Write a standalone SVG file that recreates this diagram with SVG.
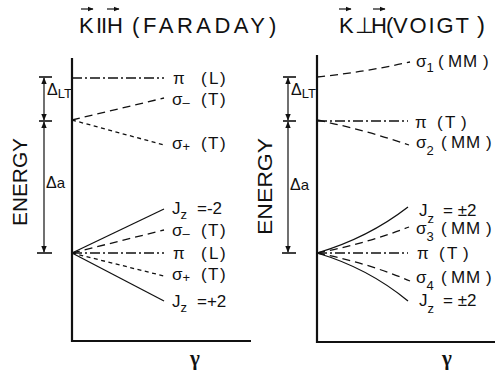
<svg xmlns="http://www.w3.org/2000/svg" width="495" height="374" viewBox="0 0 495 374">
<defs>
<style>
text{font-family:"Liberation Sans","DejaVu Sans",sans-serif;fill:#111}
.t{font-size:22px}
.lb{font-size:17px}
.sb{font-size:13px}
.en{font-size:21px}
.ax{stroke:#111;stroke-width:2.2;fill:none}
.dim{stroke:#111;stroke-width:1.2;fill:none}
.tk{stroke:#111;stroke-width:1.6}
.so{stroke:#111;stroke-width:1.3;fill:none}
.da{stroke:#111;stroke-width:1.3;fill:none;stroke-dasharray:8 5}
.sd{stroke:#111;stroke-width:1.3;fill:none;stroke-dasharray:4 3.5}
.dd{stroke:#111;stroke-width:1.3;fill:none;stroke-dasharray:10 3 2 3}
.gm{font-family:"Liberation Serif","DejaVu Serif",serif;font-size:21px;font-weight:bold}
</style>
<marker id="ah" viewBox="0 0 10 10" refX="9" refY="5" markerWidth="7" markerHeight="7" markerUnits="userSpaceOnUse" orient="auto-start-reverse">
<path d="M0,1 L10,5 L0,9 Z" fill="#111"/>
</marker>
<marker id="ta" viewBox="0 0 10 10" refX="9" refY="5" markerWidth="6" markerHeight="6" markerUnits="userSpaceOnUse" orient="auto">
<path d="M0,1 L10,5 L0,9 Z" fill="#111"/>
</marker>
</defs>

<g id="title-faraday">
<line x1="81" y1="9" x2="93" y2="9" class="dim" marker-end="url(#ta)"/>
<line x1="107" y1="9" x2="119" y2="9" class="dim" marker-end="url(#ta)"/>
<text class="t" x="79 96 101 107 132" y="33">KIIH(</text>
<text class="t" x="143" y="33" textLength="122" lengthAdjust="spacing">FARADAY</text>
<text class="t" x="269" y="33">)</text>
</g>

<g id="title-voigt">
<line x1="339" y1="9" x2="351" y2="9" class="dim" marker-end="url(#ta)"/>
<line x1="373" y1="9" x2="385" y2="9" class="dim" marker-end="url(#ta)"/>
<text class="t" x="339 355 371 386" y="33">K⊥H(</text>
<text class="t" x="393" y="33" textLength="76" lengthAdjust="spacing">VOIGT</text>
<text x="477" y="33" style="font-size:24px">)</text>
</g>

<g id="axes-left">
<polyline class="ax" points="72,58 72,341 251,341"/>
</g>
<g id="axes-right">
<polyline class="ax" points="317,55 317,342 495,342"/>
</g>

<g id="energy-labels">
<text class="en" transform="translate(27,226) rotate(-90)" textLength="88" lengthAdjust="spacingAndGlyphs">ENERGY</text>
<text class="en" transform="translate(272,235) rotate(-90)" textLength="97" lengthAdjust="spacingAndGlyphs">ENERGY</text>
</g>

<g id="dim-left">
<line class="tk" x1="39" y1="77" x2="52" y2="77"/>
<line class="tk" x1="39" y1="121" x2="52" y2="121"/>
<line class="tk" x1="37" y1="253" x2="52" y2="253"/>
<line class="dim" x1="44" y1="78" x2="44" y2="120" marker-start="url(#ah)" marker-end="url(#ah)"/>
<line class="dim" x1="44" y1="122" x2="44" y2="252" marker-start="url(#ah)" marker-end="url(#ah)"/>
<text x="47" y="95" style="font-size:16px">Δ<tspan class="sb" dy="3">LT</tspan></text>
<text x="46" y="188" style="font-size:16px">Δ<tspan style="font-size:15px">a</tspan></text>
</g>

<g id="dim-right">
<line class="tk" x1="283" y1="77" x2="296" y2="77"/>
<line class="tk" x1="283" y1="121" x2="296" y2="121"/>
<line class="tk" x1="282" y1="253" x2="296" y2="253"/>
<line class="dim" x1="288" y1="78" x2="288" y2="120" marker-start="url(#ah)" marker-end="url(#ah)"/>
<line class="dim" x1="288" y1="122" x2="288" y2="252" marker-start="url(#ah)" marker-end="url(#ah)"/>
<text x="291" y="95" style="font-size:16px">Δ<tspan class="sb" dy="3">LT</tspan></text>
<text x="290" y="190" style="font-size:16px">Δ<tspan style="font-size:15px">a</tspan></text>
</g>

<g id="connectors">
<line class="dd" x1="72" y1="78" x2="164" y2="78"/>
<line class="da" x1="72" y1="120" x2="164" y2="98"/>
<line class="sd" x1="72" y1="120" x2="164" y2="145"/>
<line class="so" x1="72" y1="253" x2="164" y2="209"/>
<line class="da" x1="72" y1="253" x2="164" y2="230"/>
<line class="dd" x1="72" y1="253" x2="164" y2="253"/>
<line class="sd" x1="72" y1="253" x2="164" y2="276"/>
<line class="so" x1="72" y1="253" x2="164" y2="301"/>
<path class="da" d="M317,77 Q365,72 410,62"/>
<line class="dd" x1="317" y1="121" x2="408" y2="121"/>
<path class="da" d="M317,120 Q365,130 409,145"/>
<path class="so" d="M317,253 Q368,238 408,207"/>
<path class="da" d="M317,253 Q365,244 409,227"/>
<line class="dd" x1="317" y1="253" x2="408" y2="253"/>
<path class="da" d="M317,253 Q365,262 410,281"/>
<path class="so" d="M317,253 Q368,268 408,301"/>
</g>

<g id="labels-left">
<text class="lb" x="173" y="84">π</text><text class="lb" x="201 209 220" y="84">(L)</text>
<text class="lb" x="172" y="105">σ<tspan class="sb" dy="2">–</tspan></text><text class="lb" x="201 208 220" y="105">(T)</text>
<text class="lb" x="172" y="149">σ<tspan class="sb" dy="2">+</tspan></text><text class="lb" x="201 208 220" y="149">(T)</text>
<text class="lb" x="172" y="214">J<tspan class="sb" dy="5">z</tspan></text><text class="lb" x="197" y="214">=-2</text>
<text class="lb" x="172" y="236">σ<tspan class="sb" dy="2">–</tspan></text><text class="lb" x="201 208 220" y="236">(T)</text>
<text class="lb" x="173" y="259">π</text><text class="lb" x="201 209 220" y="259">(L)</text>
<text class="lb" x="172" y="280">σ<tspan class="sb" dy="2">+</tspan></text><text class="lb" x="201 208 220" y="280">(T)</text>
<text class="lb" x="172" y="307">J<tspan class="sb" dy="5">z</tspan></text><text class="lb" x="197" y="307">=+2</text>
</g>

<g id="labels-right">
<text class="lb" x="416" y="67">σ<tspan class="sb" dy="5">1</tspan></text><text class="lb" x="438 448 463 483" y="67">(MM)</text>
<text class="lb" x="415" y="128">π</text><text class="lb" x="437 445 461" y="128">(T)</text>
<text class="lb" x="416" y="148">σ<tspan class="sb" dy="7">2</tspan></text><text class="lb" x="441 451 466 486" y="148">(MM)</text>
<text class="lb" x="419" y="216">J<tspan class="sb" dy="7">z</tspan></text><text class="lb" x="443" y="216">= ±2</text>
<text class="lb" x="416" y="234">σ<tspan class="sb" dy="7">3</tspan></text><text class="lb" x="441 451 466 486" y="234">(MM)</text>
<text class="lb" x="417" y="259">π</text><text class="lb" x="439 447 463" y="259">(T)</text>
<text class="lb" x="416" y="283">σ<tspan class="sb" dy="7">4</tspan></text><text class="lb" x="441 451 466 486" y="283">(MM)</text>
<text class="lb" x="419" y="306">J<tspan class="sb" dy="7">z</tspan></text><text class="lb" x="443" y="306">= ±2</text>
</g>

<g id="gamma-labels">
<text class="gm" x="195" y="365" text-anchor="middle">γ</text>
<text class="gm" x="447" y="365" text-anchor="middle">γ</text>
</g>
</svg>
